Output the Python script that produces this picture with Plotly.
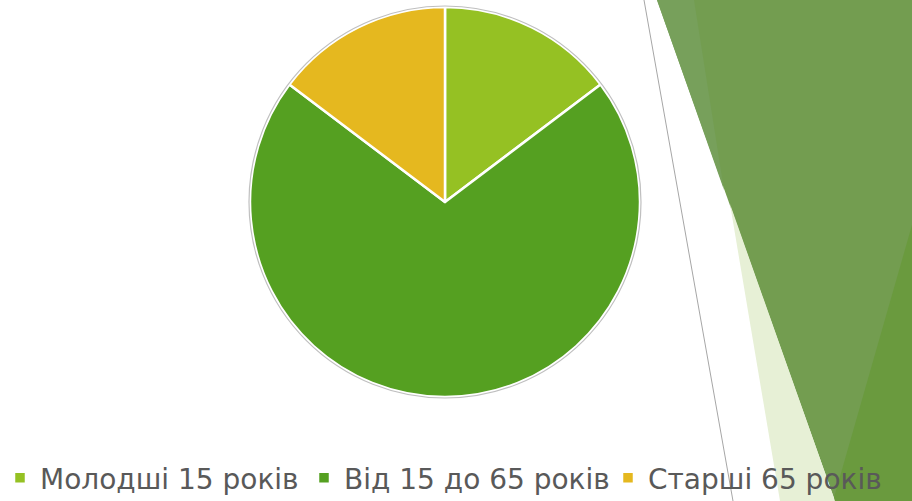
import plotly.graph_objects as go

labels = ["Молодші 15 років", "Від 15 до 65 років", "Старші 65 років"]
values = [14.7, 70.6, 14.7]
colors = ["#95C123", "#55A021", "#E5B81F"]

W, H = 912, 501

def px(x):
    return x / W

def py(y):
    return 1 - y / H

def poly(pts):
    s = "M " + " L ".join(f"{px(x)},{py(y)}" for x, y in pts) + " Z"
    return s

shapes = [
    dict(type="path", xref="paper", yref="paper", layer="below",
         path=poly([(657, 0), (912, 0), (912, 501), (835, 501)]),
         fillcolor="#739D50", line=dict(width=0)),
    dict(type="path", xref="paper", yref="paper", layer="below",
         path=poly([(657, 0), (694, 0), (724, 190)]),
         fillcolor="#77A05B", line=dict(width=0)),
    dict(type="path", xref="paper", yref="paper", layer="below",
         path=poly([(912, 225), (912, 501), (833, 501)]),
         fillcolor="#6A9A3E", line=dict(width=0)),
    dict(type="path", xref="paper", yref="paper", layer="below",
         path=poly([(730, 204), (835, 501), (780, 501)]),
         fillcolor="#E7F0D6", line=dict(width=0)),
    dict(type="line", xref="paper", yref="paper", layer="below",
         x0=px(644), y0=py(0), x1=px(733), y1=py(501),
         line=dict(color="#A6A6A6", width=1)),
    dict(type="circle", xref="paper", yref="paper", layer="above",
         x0=px(445 - 196), x1=px(445 + 196), y0=py(202 + 196), y1=py(202 - 196),
         line=dict(color="#BFBFBF", width=1.2)),
]

fig = go.Figure(go.Pie(
    labels=labels,
    values=values,
    marker=dict(colors=colors, line=dict(color="white", width=2.5)),
    sort=False,
    direction="clockwise",
    rotation=0,
    textinfo="none",
    hoverinfo="label+percent",
    domain=dict(x=[px(250), px(640)], y=[py(397), py(7)]),
))

fig.update_layout(
    width=W, height=H,
    margin=dict(l=0, r=0, t=0, b=0, autoexpand=False),
    paper_bgcolor="white",
    plot_bgcolor="white",
    shapes=shapes,
    showlegend=True,
    legend=dict(
        orientation="h",
        x=0, xanchor="left",
        y=py(478), yanchor="middle",
        font=dict(family="DejaVu Sans", size=28, color="#595959"),
        bgcolor="rgba(0,0,0,0)",
        itemwidth=30,
        entrywidth=259,
        tracegroupgap=0,
    ),
)

fig.write_html("out.html")
